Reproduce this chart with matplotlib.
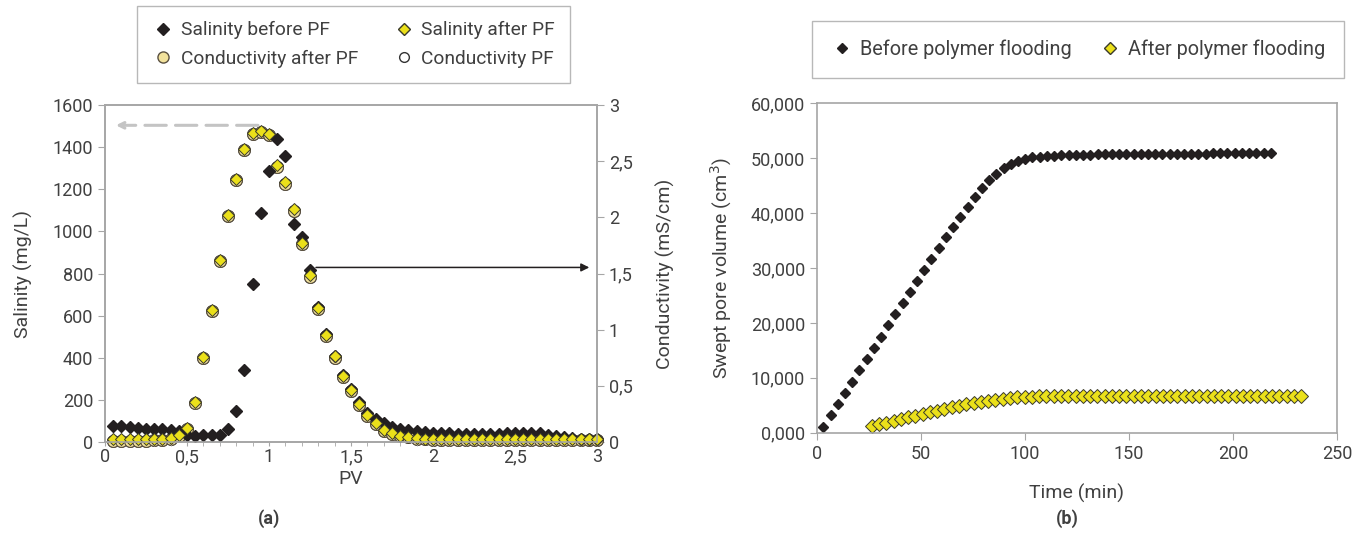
import numpy as np
import matplotlib
matplotlib.use("Agg")
import matplotlib.pyplot as plt
from matplotlib.lines import Line2D
from matplotlib.ticker import MultipleLocator, FuncFormatter

plt.rcParams['font.family'] = ['Roboto', 'DejaVu Sans']

# ---- (a) salinity / conductivity vs PV ----
pv = np.round(np.arange(0.05, 3.001, 0.05), 2)

sal_before = [75, 75, 72, 67, 64, 64, 62, 58, 50, 32,
              27, 32, 32, 32, 64, 145, 340, 750, 1088, 1287,
              1437, 1360, 1035, 975, 818, 640, 515, 410, 318, 250,
              188, 138, 110, 88, 72, 62, 56, 52, 48, 45,
              43, 42, 40, 40, 38, 37, 37, 40, 45, 45,
              45, 45, 42, 35, 28, 22, 18, 16, 15, 14]

sal_after = [12, 12, 12, 12, 12, 13, 15, 20, 33, 68,
             192, 403, 628, 863, 1078, 1249, 1391, 1466, 1478, 1461,
             1314, 1234, 1106, 945, 792, 634, 506, 407, 314, 245,
             181, 128, 88, 58, 41, 29, 22, 18, 16, 14,
             14, 13, 13, 13, 13, 13, 13, 13, 13, 13,
             13, 13, 13, 13, 13, 13, 13, 13, 13, 13]

cond_after = [0.01, 0.01, 0.01, 0.01, 0.01, 0.02, 0.02, 0.03, 0.05, 0.12,
              0.35, 0.75, 1.17, 1.61, 2.01, 2.33, 2.60, 2.74, 2.76, 2.73,
              2.45, 2.30, 2.06, 1.76, 1.47, 1.18, 0.94, 0.75, 0.58, 0.45,
              0.33, 0.23, 0.16, 0.10, 0.07, 0.05, 0.04, 0.03, 0.03, 0.02,
              0.02, 0.02, 0.02, 0.02, 0.02, 0.02, 0.02, 0.02, 0.02, 0.02,
              0.02, 0.02, 0.02, 0.02, 0.02, 0.02, 0.02, 0.02, 0.02, 0.02]
cond_pf = cond_after

# ---- (b) swept pore volume vs time ----
t_before = np.round(3 + 3.47 * np.arange(63), 1)
swept_before = [1100, 3150, 5200, 7250, 9300, 11350, 13400, 15450, 17500, 19550,
                21600, 23650, 25700, 27700, 29700, 31700, 33650, 35600, 37500, 39350,
                41150, 42900, 44500, 45950, 47200, 48200, 48950, 49500, 49900, 50150,
                50300, 50400, 50480, 50550, 50600, 50620, 50650, 50680, 50700, 50720,
                50740, 50750, 50760, 50780, 50790, 50800, 50810, 50820, 50830, 50840,
                50850, 50850, 50860, 50860, 50870, 50870, 50880, 50880, 50890, 50890,
                50900, 50900, 50900]

t_after = np.round(26.3 + 3.5 * np.arange(60), 1)
swept_after = [1220, 1530, 1830, 2190, 2490, 2800, 3100, 3400, 3700, 4010,
               4310, 4610, 4860, 5170, 5410, 5650, 5830, 6010, 6190, 6320,
               6440, 6500, 6560, 6620, 6650, 6670, 6680, 6690, 6700, 6700,
               6710, 6710, 6720, 6720, 6720, 6730, 6730, 6730, 6730, 6740,
               6740, 6740, 6740, 6740, 6750, 6750, 6750, 6750, 6750, 6750,
               6750, 6750, 6750, 6750, 6750, 6750, 6750, 6750, 6750, 6750]

BLACK = '#231f20'
YELLOW = '#ebe01a'
TAN = '#f2e29c'
GRID = '#a6a6a6'
TXT = '#404040'
LBL = 14

fig = plt.figure(figsize=(13.54, 5.39), dpi=100)

def style_axes(ax):
    for s in ax.spines.values():
        s.set_color(GRID)
        s.set_linewidth(1.2)
    ax.tick_params(colors=GRID, labelcolor=TXT, labelsize=13, direction='out', length=5)

comma = FuncFormatter(lambda v, p: f'{v:g}'.replace('.', ','))

# left panel
ax1 = fig.add_axes([0.0775, 0.18, 0.3634, 0.625])
ax2 = ax1.twinx()
style_axes(ax1)
style_axes(ax2)
ax1.set_xlim(0, 3)
ax1.set_ylim(0, 1600)
ax2.set_ylim(0, 3)
ax1.xaxis.set_major_locator(MultipleLocator(0.5))
ax1.xaxis.set_minor_locator(MultipleLocator(0.1))
ax1.tick_params(axis='x', which='major', length=3, pad=1.5)
ax1.tick_params(axis='x', which='minor', direction='out', length=3, colors=GRID)
ax1.yaxis.set_major_locator(MultipleLocator(200))
ax2.yaxis.set_major_locator(MultipleLocator(0.5))
ax1.xaxis.set_major_formatter(comma)
ax2.yaxis.set_major_formatter(comma)

ax1.set_zorder(ax2.get_zorder() + 1)
ax1.patch.set_visible(False)
ax2.plot(pv, cond_pf, 'o', ms=8.5, mfc='white', mec='#333333', mew=0.8, ls='none', clip_on=False)
ax2.plot(pv, cond_after, 'o', ms=8.5, mfc=TAN, mec='#5a5040', mew=0.8, ls='none', clip_on=False)
ax1.plot(pv, sal_before, 'D', ms=6.5, color=BLACK, ls='none', clip_on=False)
ax1.plot(pv, sal_after, 'D', ms=6.5, mfc=YELLOW, mec='#3a3a2a', mew=0.7, ls='none', clip_on=False)

ax1.annotate('', xy=(0.05, 1504), xytext=(0.95, 1504),
             arrowprops=dict(arrowstyle='->', color='#c4c4c4', lw=2.2, ls=(0, (7, 3))))
ax1.annotate('', xy=(2.97, 829), xytext=(1.27, 829),
             arrowprops=dict(arrowstyle='-|>', color=BLACK, lw=1.1, mutation_scale=12))

ax1.set_xlabel('PV', fontsize=LBL, color=TXT, labelpad=3)
ax1.set_ylabel('Salinity (mg/L)', fontsize=LBL, color=TXT, labelpad=14)
ax2.set_ylabel('Conductivity (mS/cm)', fontsize=LBL, color=TXT, labelpad=17)

h = [Line2D([], [], marker='D', ms=6, color=BLACK, ls='none'),
     Line2D([], [], marker='o', ms=8, mfc=TAN, mec='#5a5040', ls='none'),
     Line2D([], [], marker='D', ms=6, mfc=YELLOW, mec='#3a3a2a', ls='none'),
     Line2D([], [], marker='o', ms=7, mfc='white', mec='#333333', ls='none')]
lab = ['Salinity before PF', 'Conductivity after PF', 'Salinity after PF', 'Conductivity PF']
leg1 = fig.legend(h, lab, ncol=2, loc='center', bbox_to_anchor=(0.261, 0.917),
                  fontsize=13.8, frameon=True, fancybox=False, edgecolor=GRID,
                  handletextpad=0.3, columnspacing=1.8, borderpad=0.8, labelspacing=0.55,
                  handlelength=1.2)
for t in leg1.get_texts():
    t.set_color(TXT)
fig.text(0.199, 0.028, '(a)', fontsize=13, fontweight='bold', color=TXT, ha='center')

# right panel
ax3 = fig.add_axes([0.6034, 0.1972, 0.384, 0.611])
style_axes(ax3)
ax3.set_xlim(0, 250)
ax3.set_ylim(0, 60000)
ax3.xaxis.set_major_locator(MultipleLocator(50))
ax3.yaxis.set_major_locator(MultipleLocator(10000))
ax3.yaxis.set_major_formatter(FuncFormatter(lambda v, p: '0,000' if v == 0 else f'{int(v):,}'))
ax3.plot(t_before, swept_before, 'D', ms=5.5, color=BLACK, ls='none', clip_on=False)
ax3.plot(t_after, swept_after, 'D', ms=6.8, mfc=YELLOW, mec='#3a3a2a', mew=0.7, ls='none', clip_on=False)
ax3.set_xlabel('Time (min)', fontsize=LBL, color=TXT, labelpad=15)
ax3.set_ylabel('Swept pore volume (cm$^3$)', fontsize=LBL, color=TXT, labelpad=12)

h2 = [Line2D([], [], marker='D', ms=5, color=BLACK, ls='none'),
      Line2D([], [], marker='D', ms=6.5, mfc=YELLOW, mec='#3a3a2a', ls='none')]
leg2 = fig.legend(h2, ['Before polymer flooding', 'After polymer flooding'], ncol=2, loc='center',
                  bbox_to_anchor=(0.796, 0.908), fontsize=14.3, frameon=True, fancybox=False,
                  edgecolor=GRID, handletextpad=0.3, columnspacing=1.3, borderpad=0.95,
                  handlelength=1.2)
for t in leg2.get_texts():
    t.set_color(TXT)
fig.text(0.788, 0.028, '(b)', fontsize=13, fontweight='bold', color=TXT, ha='center')

fig.savefig('out.png', dpi=100)
